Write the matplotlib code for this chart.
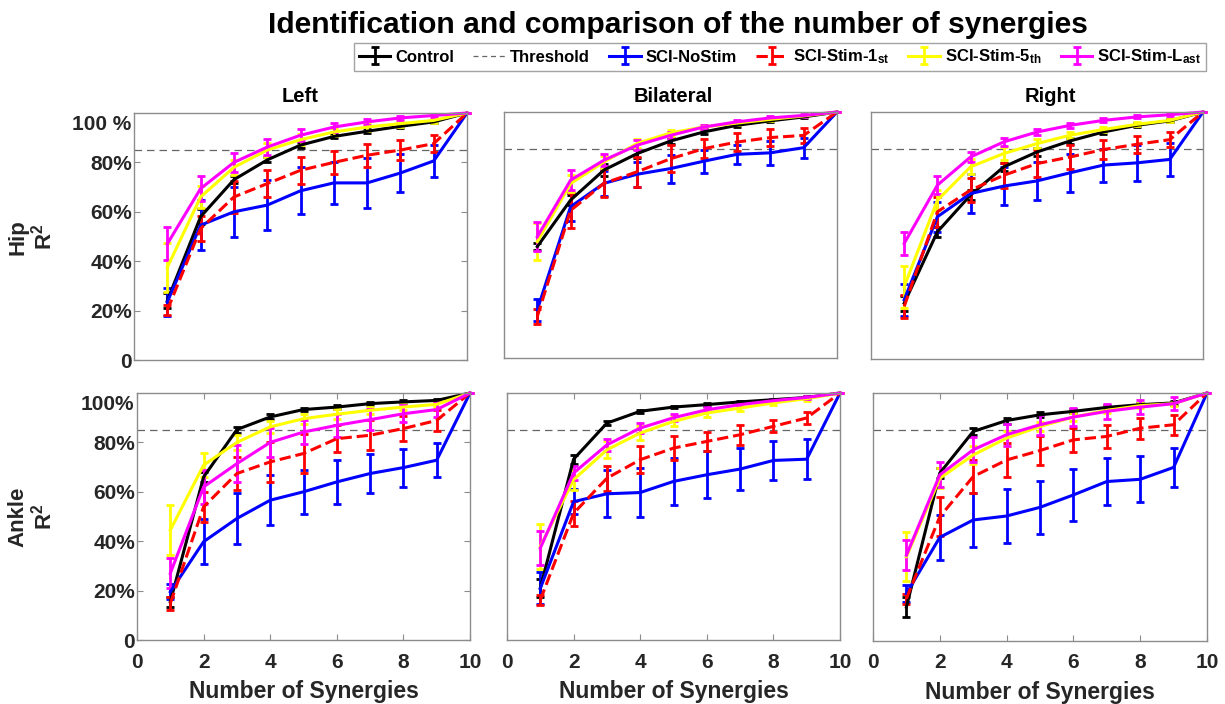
import matplotlib

matplotlib.use("Agg")
import matplotlib.pyplot as plt  # noqa: E402
from matplotlib.lines import Line2D  # noqa: E402

plt.rcParams["font.family"] = ["Liberation Sans", "DejaVu Sans"]
plt.rcParams["mathtext.default"] = "regular"

W, H = 1225, 704
synergies = [1, 2, 3, 4, 5, 6, 7, 8, 9, 10]
groups = ["Control", "SCI-NoStim", "SCI-Stim-1st", "SCI-Stim-5th", "SCI-Stim-Last"]
threshold = 0.85

# mean R^2 and error per panel, one list per group
hip_left_mean = {
    "Control": [0.24, 0.58, 0.73, 0.81, 0.87, 0.905, 0.926, 0.946, 0.964, 1.0],
    "SCI-NoStim": [0.235, 0.546, 0.60, 0.627, 0.685, 0.717, 0.717, 0.757, 0.806, 1.0],
    "SCI-Stim-1st": [0.202, 0.532, 0.66, 0.714, 0.768, 0.80, 0.829, 0.85, 0.876, 1.0],
    "SCI-Stim-5th": [0.375, 0.66, 0.78, 0.85, 0.892, 0.923, 0.943, 0.957, 0.97, 1.0],
    "SCI-Stim-Last": [0.47, 0.694, 0.80, 0.862, 0.91, 0.943, 0.964, 0.98, 0.99, 1.0],
}
hip_left_err = {
    "Control": [0.03, 0.03, 0.015, 0.01, 0.01, 0.008, 0.008, 0.006, 0.006, 0],
    "SCI-NoStim": [0.055, 0.1, 0.1, 0.1, 0.095, 0.085, 0.1, 0.078, 0.066, 0],
    "SCI-Stim-1st": [0.02, 0.05, 0.064, 0.054, 0.054, 0.047, 0.047, 0.04, 0.034, 0],
    "SCI-Stim-5th": [0.1, 0.045, 0.03, 0.027, 0.022, 0.018, 0.015, 0.012, 0.01, 0],
    "SCI-Stim-Last": [0.067, 0.05, 0.04, 0.034, 0.025, 0.018, 0.012, 0.008, 0.005, 0],
}
hip_bi_mean = {
    "Control": [0.453, 0.642, 0.764, 0.831, 0.882, 0.919, 0.946, 0.964, 0.98, 1.0],
    "SCI-NoStim": [0.196, 0.615, 0.71, 0.747, 0.77, 0.80, 0.828, 0.834, 0.855, 1.0],
    "SCI-Stim-1st": [0.169, 0.60, 0.71, 0.757, 0.81, 0.851, 0.878, 0.896, 0.905, 1.0],
    "SCI-Stim-5th": [0.473, 0.709, 0.797, 0.872, 0.915, 0.939, 0.955, 0.97, 0.984, 1.0],
    "SCI-Stim-Last": [0.493, 0.723, 0.804, 0.865, 0.905, 0.939, 0.96, 0.976, 0.986, 1.0],
}
hip_bi_err = {
    "Control": [0.015, 0.02, 0.025, 0.02, 0.012, 0.01, 0.008, 0.006, 0.005, 0],
    "SCI-NoStim": [0.045, 0.057, 0.05, 0.05, 0.057, 0.047, 0.038, 0.05, 0.04, 0],
    "SCI-Stim-1st": [0.03, 0.07, 0.057, 0.06, 0.054, 0.04, 0.038, 0.034, 0.03, 0],
    "SCI-Stim-5th": [0.074, 0.034, 0.025, 0.018, 0.012, 0.01, 0.008, 0.006, 0.005, 0],
    "SCI-Stim-Last": [0.058, 0.04, 0.024, 0.02, 0.013, 0.01, 0.008, 0.006, 0.005, 0],
}
hip_right_mean = {
    "Control": [0.226, 0.515, 0.664, 0.778, 0.838, 0.883, 0.919, 0.946, 0.964, 1.0],
    "SCI-NoStim": [0.24, 0.576, 0.67, 0.70, 0.721, 0.754, 0.785, 0.794, 0.808, 1.0],
    "SCI-Stim-1st": [0.213, 0.596, 0.684, 0.744, 0.791, 0.818, 0.848, 0.869, 0.888, 1.0],
    "SCI-Stim-5th": [0.293, 0.643, 0.778, 0.832, 0.872, 0.906, 0.929, 0.95, 0.966, 1.0],
    "SCI-Stim-Last": [0.468, 0.704, 0.818, 0.879, 0.919, 0.946, 0.966, 0.98, 0.989, 1.0],
}
hip_right_err = {
    "Control": [0.03, 0.02, 0.02, 0.015, 0.015, 0.012, 0.01, 0.008, 0.006, 0],
    "SCI-NoStim": [0.065, 0.06, 0.077, 0.077, 0.077, 0.077, 0.067, 0.074, 0.067, 0],
    "SCI-Stim-1st": [0.045, 0.06, 0.05, 0.05, 0.054, 0.047, 0.04, 0.034, 0.03, 0],
    "SCI-Stim-5th": [0.085, 0.04, 0.03, 0.025, 0.017, 0.013, 0.01, 0.008, 0.006, 0],
    "SCI-Stim-Last": [0.047, 0.035, 0.02, 0.017, 0.012, 0.01, 0.008, 0.006, 0.005, 0],
}
ankle_left_mean = {
    "Control": [0.155, 0.66, 0.852, 0.903, 0.933, 0.943, 0.957, 0.964, 0.97, 1.0],
    "SCI-NoStim": [0.195, 0.398, 0.492, 0.566, 0.60, 0.64, 0.674, 0.698, 0.728, 1.0],
    "SCI-Stim-1st": [0.148, 0.539, 0.674, 0.721, 0.755, 0.815, 0.829, 0.856, 0.889, 1.0],
    "SCI-Stim-5th": [0.445, 0.708, 0.80, 0.863, 0.896, 0.914, 0.93, 0.943, 0.954, 1.0],
    "SCI-Stim-Last": [0.27, 0.62, 0.714, 0.80, 0.842, 0.869, 0.892, 0.916, 0.933, 1.0],
}
ankle_left_err = {
    "Control": [0.02, 0.02, 0.012, 0.01, 0.007, 0.007, 0.006, 0.006, 0.005, 0],
    "SCI-NoStim": [0.03, 0.09, 0.105, 0.1, 0.09, 0.09, 0.078, 0.077, 0.07, 0],
    "SCI-Stim-1st": [0.025, 0.06, 0.065, 0.08, 0.08, 0.054, 0.06, 0.05, 0.042, 0],
    "SCI-Stim-5th": [0.1, 0.05, 0.03, 0.025, 0.02, 0.02, 0.015, 0.012, 0.01, 0],
    "SCI-Stim-Last": [0.06, 0.07, 0.075, 0.058, 0.05, 0.047, 0.042, 0.035, 0.03, 0],
}
ankle_bi_mean = {
    "Control": [0.21, 0.732, 0.878, 0.926, 0.943, 0.953, 0.964, 0.973, 0.982, 1.0],
    "SCI-NoStim": [0.209, 0.56, 0.592, 0.597, 0.642, 0.669, 0.692, 0.727, 0.732, 1.0],
    "SCI-Stim-1st": [0.162, 0.513, 0.655, 0.73, 0.777, 0.804, 0.831, 0.865, 0.899, 1.0],
    "SCI-Stim-5th": [0.378, 0.649, 0.77, 0.838, 0.885, 0.919, 0.939, 0.96, 0.977, 1.0],
    "SCI-Stim-Last": [0.372, 0.676, 0.79, 0.858, 0.90, 0.932, 0.953, 0.969, 0.982, 1.0],
}
ankle_bi_err = {
    "Control": [0.035, 0.018, 0.008, 0.006, 0.005, 0.005, 0.005, 0.004, 0.004, 0],
    "SCI-NoStim": [0.065, 0.05, 0.095, 0.1, 0.095, 0.095, 0.086, 0.08, 0.082, 0],
    "SCI-Stim-1st": [0.02, 0.05, 0.05, 0.055, 0.05, 0.04, 0.04, 0.024, 0.024, 0],
    "SCI-Stim-5th": [0.09, 0.04, 0.035, 0.027, 0.02, 0.015, 0.012, 0.01, 0.008, 0],
    "SCI-Stim-Last": [0.068, 0.03, 0.025, 0.02, 0.015, 0.01, 0.008, 0.006, 0.005, 0],
}
ankle_right_mean = {
    "Control": [0.137, 0.677, 0.845, 0.889, 0.912, 0.926, 0.942, 0.953, 0.96, 1.0],
    "SCI-NoStim": [0.191, 0.418, 0.488, 0.504, 0.539, 0.589, 0.643, 0.652, 0.70, 1.0],
    "SCI-Stim-1st": [0.171, 0.501, 0.663, 0.73, 0.768, 0.811, 0.825, 0.858, 0.872, 1.0],
    "SCI-Stim-5th": [0.34, 0.656, 0.75, 0.818, 0.865, 0.903, 0.93, 0.949, 0.957, 1.0],
    "SCI-Stim-Last": [0.346, 0.67, 0.771, 0.832, 0.872, 0.903, 0.926, 0.943, 0.957, 1.0],
}
ankle_right_err = {
    "Control": [0.04, 0.02, 0.015, 0.012, 0.01, 0.008, 0.008, 0.007, 0.007, 0],
    "SCI-NoStim": [0.035, 0.09, 0.107, 0.11, 0.108, 0.104, 0.094, 0.093, 0.08, 0],
    "SCI-Stim-1st": [0.02, 0.078, 0.065, 0.068, 0.058, 0.047, 0.047, 0.043, 0.04, 0],
    "SCI-Stim-5th": [0.098, 0.04, 0.035, 0.03, 0.02, 0.015, 0.012, 0.01, 0.008, 0],
    "SCI-Stim-Last": [0.06, 0.05, 0.05, 0.045, 0.04, 0.035, 0.03, 0.027, 0.027, 0],
}

styles = {
    "Control": dict(color="black", ls="-"),
    "SCI-NoStim": dict(color="#0000ff", ls="-"),
    "SCI-Stim-1st": dict(color="#ff0000", ls="--"),
    "SCI-Stim-5th": dict(color="#ffff00", ls="-"),
    "SCI-Stim-Last": dict(color="#ff00ff", ls="-"),
}
labels = {
    "Control": "Control",
    "SCI-NoStim": "SCI-NoStim",
    "SCI-Stim-1st": r"SCI-Stim-1$_{st}$",
    "SCI-Stim-5th": r"SCI-Stim-5$_{th}$",
    "SCI-Stim-Last": r"SCI-Stim-L$_{ast}$",
}

# axes boxes in pixels: left, top, right, bottom
boxes = [
    [(134, 113, 467, 360), (504, 112, 837, 358), (871, 112, 1203, 359)],
    [(137, 393, 470, 640), (507, 393, 840, 640), (873, 393, 1207, 641)],
]
panels = [
    [(hip_left_mean, hip_left_err), (hip_bi_mean, hip_bi_err), (hip_right_mean, hip_right_err)],
    [(ankle_left_mean, ankle_left_err), (ankle_bi_mean, ankle_bi_err),
     (ankle_right_mean, ankle_right_err)],
]

SPINE = "#8c8c8c"
TXT = "#262626"

fig = plt.figure(figsize=(W / 100, H / 100), dpi=100)
handles = {}
for r in range(2):
    for c in range(3):
        l, t, rr, b = boxes[r][c]
        ax = fig.add_axes([l / W, 1 - b / H, (rr - l) / W, (b - t) / H])
        means, errs = panels[r][c]
        for g in groups:
            st = styles[g]
            cont = ax.errorbar(synergies, means[g], yerr=errs[g], color=st["color"],
                               ls=st["ls"], lw=2.2, elinewidth=2, capsize=3.2,
                               capthick=2)
            cont[0].set_clip_on(False)
            for a in cont[1]:
                a.set_clip_on(False)
            for a in cont[2]:
                a.set_clip_on(False)
            handles[g] = cont
        ax.axhline(threshold, color="#666666", ls=(0, (6, 4)), lw=0.9, zorder=0)
        ax.set_xlim(0, 10)
        ax.set_ylim(0, 1.0)
        for s in ax.spines.values():
            s.set_color(SPINE)
            s.set_linewidth(1.0)
        ax.tick_params(direction="in", length=4, width=0.8, color=SPINE,
                       labelcolor=TXT, labelsize=15)
        if c == 0:
            ax.set_yticks([0, 0.2, 0.4, 0.6, 0.8])
            ax.set_yticklabels(["0", "20%", "40%", "60%", "80%"], fontweight="bold")
            ax.tick_params(axis="y", left=True, right=True, pad=1.5)
            ax.text(-0.008, 0.955, "100 %" if r == 0 else "100%",
                    transform=ax.get_yaxis_transform(), ha="right", va="center",
                    fontsize=15, fontweight="bold", color=TXT)
        else:
            ax.set_yticks([])
        if r == 1:
            ax.set_xticks([0, 2, 4, 6, 8, 10])
            ax.set_xticklabels(["0", "2", "4", "6", "8", "10"], fontweight="bold")
            ax.tick_params(axis="x", top=True, bottom=True, pad=9)
            ax.set_xlabel("Number of Synergies", fontsize=16.5, fontweight="bold",
                          color=TXT, labelpad=6)
        else:
            ax.set_xticks([])

# column titles
for x, name in [(300, "Left"), (673, "Bilateral"), (1050, "Right")]:
    fig.text(x / W, 1 - 97 / H, name, ha="center", va="center", fontsize=14.5,
             fontweight="bold", color="black")

# row labels
for y, name in [(237, "Hip"), (517, "Ankle")]:
    fig.text(18 / W, 1 - y / H, name, ha="center", va="center", rotation=90,
             fontsize=16, fontweight="bold", color=TXT)
    fig.text(44 / W, 1 - y / H, r"R$^2$", ha="center", va="center", rotation=90,
             fontsize=16, fontweight="bold", color=TXT)

fig.text(678 / W, 1 - 25 / H, "Identification and comparison of the number of synergies",
         ha="center", va="center", fontsize=21.6, fontweight="bold", color="black")

thr_handle = Line2D([], [], color="#666666", ls=(0, (4, 3)), lw=0.9)
leg_handles = [handles["Control"], thr_handle, handles["SCI-NoStim"],
               handles["SCI-Stim-1st"], handles["SCI-Stim-5th"], handles["SCI-Stim-Last"]]
leg_labels = ["Control", "Threshold", labels["SCI-NoStim"], labels["SCI-Stim-1st"],
              labels["SCI-Stim-5th"], labels["SCI-Stim-Last"]]
leg = fig.legend(leg_handles, leg_labels, loc="center", bbox_to_anchor=(780 / W, 1 - 57 / H),
                 ncol=6, frameon=True, fancybox=False, edgecolor=SPINE,
                 handlelength=1.9, handletextpad=0.3, columnspacing=1.15,
                 borderpad=0.3, prop={"weight": "bold", "size": 12})
leg.get_frame().set_linewidth(1.0)

fig.savefig("out.png", dpi=100)
